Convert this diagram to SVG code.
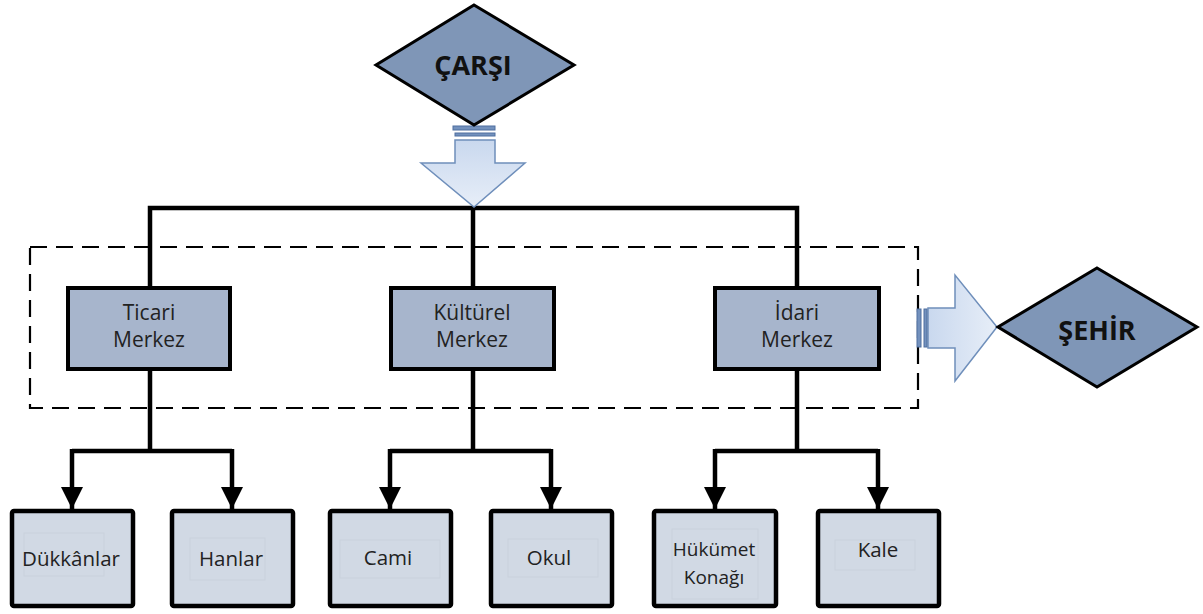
<svg xmlns="http://www.w3.org/2000/svg" width="1203" height="614" viewBox="0 0 1203 614">
<defs>
<style>
.dia{fill:#7f96b7;stroke:#000;stroke-width:3;stroke-linejoin:miter}
.mid{fill:#a7b5cc;stroke:#000;stroke-width:4}
.leaf{fill:#d1d9e4;stroke:#000;stroke-width:4.5}
.inner{fill:none;stroke:#c9d1dc;stroke-width:1}
.ln{fill:none;stroke:#000;stroke-width:4.5}
.dash{fill:none;stroke:#000;stroke-width:2.2;stroke-dasharray:17 9}
.big{font-family:"Open Sans","Noto Sans",sans-serif;font-weight:bold;font-size:27px;fill:#111;text-anchor:middle}
.t{font-family:"Open Sans","Noto Sans",sans-serif;font-size:20.5px;fill:#222;text-anchor:middle}
.t2{font-family:"Open Sans","Noto Sans",sans-serif;font-size:19px;fill:#222;text-anchor:middle}
.tm{font-family:"Open Sans","Noto Sans",sans-serif;font-size:21px;fill:#222;text-anchor:middle}
.barr{stroke:#6f8fbb;stroke-width:1.5}
.bar{fill:#7391bd;stroke:#4f6f9f;stroke-width:1}
</style>
<linearGradient id="g" x1="0" y1="0" x2="0" y2="1">
<stop offset="0" stop-color="#c9d8ee"/>
<stop offset="1" stop-color="#e7eef8"/>
</linearGradient>
<linearGradient id="g2" x1="0" y1="0" x2="1" y2="0">
<stop offset="0" stop-color="#c9d8ee"/>
<stop offset="1" stop-color="#e7eef8"/>
</linearGradient>
<marker id="ah" viewBox="0 0 10 10" refX="10" refY="5" markerWidth="5" markerHeight="5" markerUnits="strokeWidth" orient="auto">
<path d="M0,0 L10,5 L0,10 Z" fill="#000"/>
</marker>
</defs>

<g id="connectors">
<path class="ln" d="M150,287 V208 H797 V287 M473,208 V287"/>
<path class="ln" d="M150,369 V451 M72,451 H232"/>
<path class="ln" d="M473,369 V451 M390,451 H551"/>
<path class="ln" d="M797,369 V451 M715,451 H878"/>
<path class="ln" d="M72,449 V509" marker-end="url(#ah)"/>
<path class="ln" d="M232,449 V509" marker-end="url(#ah)"/>
<path class="ln" d="M390,449 V509" marker-end="url(#ah)"/>
<path class="ln" d="M551,449 V509" marker-end="url(#ah)"/>
<path class="ln" d="M715,449 V509" marker-end="url(#ah)"/>
<path class="ln" d="M878,449 V509" marker-end="url(#ah)"/>
<rect class="dash" x="30" y="247" width="888" height="161"/>
<g id="arrow-down">
<path class="barr" fill="url(#g)" d="M455,140 H495 V163 H525 L474,207 L421,163 H455 Z"/>
<rect class="bar" x="453" y="126" width="42" height="4"/>
<rect class="bar" x="455" y="133" width="40" height="3"/>
</g>
<g id="arrow-right">
<path class="barr" fill="url(#g2)" d="M928,308 H955 V275 L997,327 L955,381 V348 H928 Z"/>
<rect class="bar" x="917" y="309" width="4" height="38"/>
<rect class="bar" x="924" y="309" width="3" height="38"/>
</g>
</g>

<g id="carsi">
<polygon class="dia" points="474,5 574,65 474,125 376,65"/>
<text class="big" x="473" y="75">ÇARŞI</text>
</g>
<g id="sehir">
<polygon class="dia" points="1097,268 1197,327 1097,387 998,327"/>
<text class="big" x="1097" y="340">ŞEHİR</text>
</g>

<g id="ticari">
<rect class="mid" x="68" y="288" width="162" height="81"/>
<text class="tm" x="149" y="320">Ticari</text>
<text class="tm" x="149" y="347">Merkez</text>
</g>
<g id="kulturel">
<rect class="mid" x="391" y="288" width="163" height="81"/>
<text class="tm" x="472" y="320">Kültürel</text>
<text class="tm" x="472" y="347">Merkez</text>
</g>
<g id="idari">
<rect class="mid" x="715" y="288" width="164" height="81"/>
<text class="tm" x="797" y="320">İdari</text>
<text class="tm" x="797" y="347">Merkez</text>
</g>

<g id="dukkanlar">
<rect class="leaf" x="12" y="511" width="121" height="95" rx="2"/>
<rect class="inner" x="24" y="533" width="80" height="43"/>
<text class="t" x="71" y="566">Dükkânlar</text>
</g>
<g id="hanlar">
<rect class="leaf" x="172" y="511" width="121" height="95" rx="2"/>
<rect class="inner" x="190" y="538" width="75" height="42"/>
<text class="t" x="231" y="566">Hanlar</text>
</g>
<g id="cami">
<rect class="leaf" x="330" y="511" width="121" height="95" rx="2"/>
<rect class="inner" x="340" y="540" width="100" height="38"/>
<text class="t" x="388" y="565">Cami</text>
</g>
<g id="okul">
<rect class="leaf" x="491" y="511" width="121" height="95" rx="2"/>
<rect class="inner" x="508" y="539" width="90" height="38"/>
<text class="t" x="549" y="565">Okul</text>
</g>
<g id="hukumet">
<rect class="leaf" x="654" y="511" width="122" height="95" rx="2"/>
<rect class="inner" x="672" y="529" width="86" height="70"/>
<text class="t2" x="714" y="556">Hükümet</text>
<text class="t2" x="714" y="584">Konağı</text>
</g>
<g id="kale">
<rect class="leaf" x="818" y="511" width="121" height="95" rx="2"/>
<rect class="inner" x="835" y="540" width="80" height="30"/>
<text class="t" x="878" y="557">Kale</text>
</g>
</svg>
